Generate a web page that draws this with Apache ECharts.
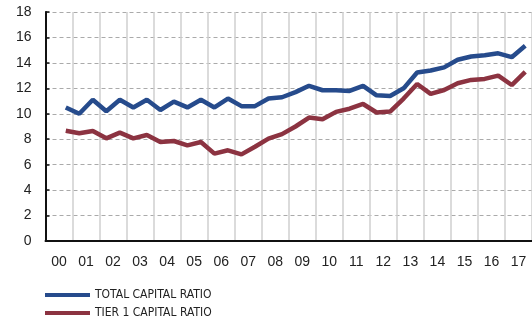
<!DOCTYPE html>
<html>
<head>
<meta charset="utf-8">
<script src="https://cdn.jsdelivr.net/npm/echarts@6/dist/echarts.min.js"></script>
<style>
  html, body { margin: 0; padding: 0; background: #fff; }
  #chart { width: 532px; height: 322px; }
</style>
</head>
<body>
<div id="chart"></div>
<script>
const years = ['00', '01', '02', '03', '04', '05', '06', '07', '08', '09',
  '10', '11', '12', '13', '14', '15', '16', '17'];
// half-year periods, the lines are plotted on these
const halfYears = years.flatMap(y => [y + ' H1', y + ' H2']);

const totalCapital = [null, 10.5,
  10.0, 11.1, 10.2, 11.1, 10.5, 11.1, 10.3, 10.95, 10.5, 11.1,
  10.5, 11.2, 10.6, 10.6, 11.2, 11.3, 11.7, 12.2, 11.85, 11.85,
  11.8, 12.2, 11.45, 11.4, 12.0, 13.25, 13.4, 13.65, 14.25, 14.5,
  14.6, 14.75, 14.45, 15.35];
const tier1Capital = [null, 8.67,
  8.47, 8.65, 8.07, 8.52, 8.07, 8.33, 7.78, 7.86, 7.52, 7.78,
  6.87, 7.13, 6.81, 7.41, 8.05, 8.4, 9.0, 9.7, 9.57, 10.15,
  10.4, 10.77, 10.1, 10.17, 11.2, 12.34, 11.56, 11.87, 12.4, 12.66,
  12.74, 13.0, 12.26, 13.3];

const seriesNames = ['TOTAL CAPITAL RATIO', 'TIER 1 CAPITAL RATIO'];
const colors = ['#264b8c', '#8c3341'];

const chart = echarts.init(document.getElementById('chart'), null, { renderer: 'canvas' });

const font = "'Liberation Sans', Arial, sans-serif";
const legendText = {
  fontFamily: "'DejaVu Sans Condensed', 'Liberation Sans Narrow', sans-serif",
  fontSize: 12,
  color: '#222'
};

const option = {
  animation: false,
  grid: { left: 45.5, right: -7, top: 12, bottom: 81 },
  legend: [
    {
      left: 40, top: 284,
      icon: 'rect', itemWidth: 45, itemHeight: 4, itemGap: 6,
      textStyle: legendText,
      data: [seriesNames[0]]
    },
    {
      left: 40, top: 302,
      icon: 'rect', itemWidth: 45, itemHeight: 4, itemGap: 6,
      textStyle: legendText,
      data: [seriesNames[1]]
    }
  ],
  xAxis: [
    {
      type: 'category',
      data: years,
      boundaryGap: true,
      axisLine: { lineStyle: { color: '#111', width: 2 } },
      axisTick: { inside: true, length: 4, lineStyle: { color: '#111', width: 1.5 } },
      axisLabel: { color: '#222', fontSize: 14, fontFamily: font, margin: 14, interval: 0 },
      splitLine: { show: true, lineStyle: { color: '#cfcfcf', width: 1.5 } }
    },
    {
      type: 'category',
      data: halfYears,
      boundaryGap: true,
      show: false
    }
  ],
  yAxis: {
    type: 'value',
    min: 0,
    max: 18,
    interval: 2,
    axisLine: { show: true, lineStyle: { color: '#111', width: 2 } },
    axisTick: { show: true, inside: true, length: 4, lineStyle: { color: '#111', width: 1.5 } },
    axisLabel: { color: '#222', fontSize: 14, fontFamily: font, margin: 14 },
    splitLine: { lineStyle: { color: '#aaa', type: [4, 3], width: 1 } }
  },
  series: [
    {
      name: seriesNames[0],
      type: 'line',
      xAxisIndex: 1,
      data: totalCapital,
      showSymbol: false,
      color: colors[0],
      lineStyle: { width: 4.5, color: colors[0] }
    },
    {
      name: seriesNames[1],
      type: 'line',
      xAxisIndex: 1,
      data: tier1Capital,
      showSymbol: false,
      color: colors[1],
      lineStyle: { width: 4.5, color: colors[1] }
    }
  ]
};

chart.setOption(option);
</script>
</body>
</html>
